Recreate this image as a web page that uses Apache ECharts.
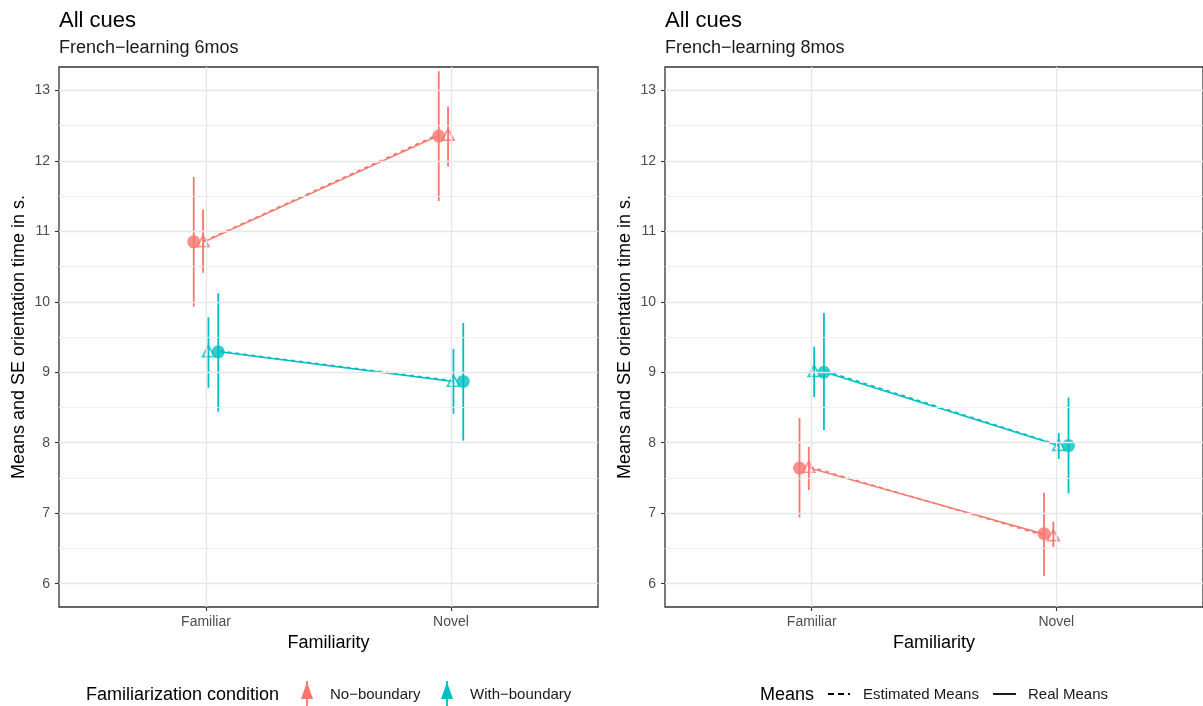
<!DOCTYPE html>
<html>
<head>
<meta charset="utf-8">
<script src="https://cdn.jsdelivr.net/npm/echarts@6/dist/echarts.min.js"></script>
<style>html,body{margin:0;padding:0;background:#fff;}#c{width:1203px;height:706px;}</style>
</head>
<body>
<div id="c"></div>
<script>
// ---------- data ----------
const categories = ['Familiar', 'Novel'];
const yTicks = [6, 7, 8, 9, 10, 11, 12, 13];
const yMinor = [6.5, 7.5, 8.5, 9.5, 10.5, 11.5, 12.5];
const panelTitles = ['All cues', 'All cues'];
const panelSubtitles = ['French\u2212learning 6mos', 'French\u2212learning 8mos'];
const groups = ['No\u2212boundary', 'With\u2212boundary'];
const meanTypes = ['Estimated Means', 'Real Means'];

// 6 months
const m6_noB_real = [10.85, 12.35], m6_noB_realLo = [9.93, 11.43], m6_noB_realHi = [11.77, 13.27];
const m6_noB_est  = [10.86, 12.37], m6_noB_estLo  = [10.41, 11.92], m6_noB_estHi  = [11.31, 12.77];
const m6_wB_real  = [9.29, 8.87],   m6_wB_realLo  = [8.44, 8.03],   m6_wB_realHi  = [10.12, 9.70];
const m6_wB_est   = [9.30, 8.88],   m6_wB_estLo   = [8.78, 8.41],   m6_wB_estHi   = [9.78, 9.33];
// 8 months
const m8_noB_real = [7.64, 6.71],   m8_noB_realLo = [6.94, 6.11],   m8_noB_realHi = [8.35, 7.29];
const m8_noB_est  = [7.66, 6.69],   m8_noB_estLo  = [7.33, 6.52],   m8_noB_estHi  = [7.94, 6.88];
const m8_wB_real  = [9.00, 7.96],   m8_wB_realLo  = [8.18, 7.28],   m8_wB_realHi  = [9.84, 8.64];
const m8_wB_est   = [9.02, 7.97],   m8_wB_estLo   = [8.65, 7.77],   m8_wB_estHi   = [9.36, 8.14];

// ---------- style / layout ----------
const RED = '#F8766D', CYAN = '#00BFC4';
const FONT = '"Liberation Sans", Arial, sans-serif';
const dodge = {noB_real: -0.05, noB_est: -0.012, wB_est: 0.01, wB_real: 0.05};
const lineDodge = {noB: [-0.008, -0.055], wB: [0.055, 0.008]};
const grids = [{left: 59, top: 67, width: 539, height: 540}, {left: 665, top: 67, width: 540, height: 540}];

const panels = [
  {noB_real: m6_noB_real, noB_realLo: m6_noB_realLo, noB_realHi: m6_noB_realHi,
   noB_est: m6_noB_est, noB_estLo: m6_noB_estLo, noB_estHi: m6_noB_estHi,
   wB_real: m6_wB_real, wB_realLo: m6_wB_realLo, wB_realHi: m6_wB_realHi,
   wB_est: m6_wB_est, wB_estLo: m6_wB_estLo, wB_estHi: m6_wB_estHi},
  {noB_real: m8_noB_real, noB_realLo: m8_noB_realLo, noB_realHi: m8_noB_realHi,
   noB_est: m8_noB_est, noB_estLo: m8_noB_estLo, noB_estHi: m8_noB_estHi,
   wB_real: m8_wB_real, wB_realLo: m8_wB_realLo, wB_realHi: m8_wB_realHi,
   wB_est: m8_wB_est, wB_estLo: m8_wB_estLo, wB_estHi: m8_wB_estHi}
];

function errRender(params, api) {
  const p1 = api.coord([api.value(0), api.value(1)]);
  const p2 = api.coord([api.value(0), api.value(2)]);
  return {type: 'line', shape: {x1: p1[0], y1: p1[1], x2: p2[0], y2: p2[1]},
          style: {stroke: api.visual('color'), lineWidth: 1.8}};
}

const series = [];
const xAxes = [], yAxes = [];
panels.forEach((P, gi) => {
  xAxes.push({
    type: 'value', gridIndex: gi, min: 0.4, max: 2.6,
    name: 'Familiarity', nameLocation: 'middle', nameGap: 27,
    nameTextStyle: {fontFamily: FONT, fontSize: 18, color: '#000'},
    axisLine: {show: false}, splitLine: {show: false},
    axisTick: {show: true, customValues: [1, 2], length: 4, lineStyle: {color: '#333', width: 1.1}},
    axisLabel: {customValues: [1, 2], formatter: v => categories[Math.round(v) - 1] || '',
                fontFamily: FONT, fontSize: 14, color: '#4d4d4d', margin: 8}
  });
  yAxes.push({
    type: 'value', gridIndex: gi, min: 5.67, max: 13.33,
    name: 'Means and SE orientation time in s.', nameLocation: 'middle', nameGap: 31,
    nameTextStyle: {fontFamily: FONT, fontSize: 18, color: '#000'},
    axisLine: {show: false}, splitLine: {show: false},
    axisTick: {show: true, customValues: yTicks, length: 4, lineStyle: {color: '#333', width: 1.1}},
    axisLabel: {customValues: yTicks, fontFamily: FONT, fontSize: 14, color: '#4d4d4d', margin: 9}
  });
  // gridlines
  series.push({
    type: 'line', xAxisIndex: gi, yAxisIndex: gi, data: [], z: 0, silent: true,
    markLine: {silent: true, symbol: ['none', 'none'], label: {show: false}, animation: false,
      data: [
        ...yMinor.map(v => ({yAxis: v, lineStyle: {color: '#ededed', width: 0.9, type: 'solid'}})),
        ...yTicks.map(v => ({yAxis: v, lineStyle: {color: '#e6e6e6', width: 1.3, type: 'solid'}})),
        ...categories.map((c, i) => ({xAxis: i + 1, lineStyle: {color: '#e6e6e6', width: 1.3, type: 'solid'}}))
      ]}
  });
  // connecting lines
  [['noB', RED], ['wB', CYAN]].forEach(([g, col]) => {
    series.push({type: 'line', xAxisIndex: gi, yAxisIndex: gi, symbol: 'none', z: 2, animation: false,
      lineStyle: {color: col, width: 1.5, type: 'solid'},
      data: categories.map((c, i) => [i + 1 + lineDodge[g][i], P[g + '_real'][i]])});
    series.push({type: 'line', xAxisIndex: gi, yAxisIndex: gi, symbol: 'none', z: 2, animation: false,
      lineStyle: {color: col, width: 1.5, type: [4, 4]},
      data: categories.map((c, i) => [i + 1 + lineDodge[g][i], P[g + '_est'][i]])});
  });
  // error bars and points
  [['noB', RED], ['wB', CYAN]].forEach(([g, col]) => {
    ['real', 'est'].forEach(t => {
      const k = g + '_' + t;
      series.push({type: 'custom', xAxisIndex: gi, yAxisIndex: gi, z: 3, animation: false,
        itemStyle: {color: col}, renderItem: errRender,
        data: categories.map((c, i) => [i + 1 + dodge[k], P[k + 'Lo'][i], P[k + 'Hi'][i]])});
      series.push({type: 'scatter', xAxisIndex: gi, yAxisIndex: gi, z: 4, animation: false,
        symbol: t === 'real' ? 'circle' : 'triangle',
        symbolSize: t === 'real' ? 13 : [12, 11],
        itemStyle: t === 'real' ? {color: col} : {color: 'rgba(255,255,255,0)', borderColor: col, borderWidth: 1.7},
        data: categories.map((c, i) => [i + 1 + dodge[k], P[k][i]])});
    });
  });
});

const titleStyle = {fontFamily: FONT, fontSize: 22, fontWeight: 'normal', color: '#000'};
const subStyle = {fontFamily: FONT, fontSize: 18, color: '#1a1a1a'};

const option = {
  backgroundColor: '#fff',
  animation: false,
  title: [
    {text: panelTitles[0], subtext: panelSubtitles[0], left: 54, top: 5, textStyle: titleStyle, subtextStyle: subStyle, itemGap: 7},
    {text: panelTitles[1], subtext: panelSubtitles[1], left: 660, top: 5, textStyle: titleStyle, subtextStyle: subStyle, itemGap: 7}
  ],
  grid: grids.map(g => Object.assign({show: true, borderColor: '#333', borderWidth: 1.3, backgroundColor: '#fff'}, g)),
  xAxis: xAxes,
  yAxis: yAxes,
  series: series,
  graphic: [
    {type: 'text', x: 86, y: 695, style: {text: 'Familiarization condition', fontFamily: FONT, fontSize: 18, fill: '#000', verticalAlign: 'middle'}},
    {type: 'line', shape: {x1: 307, y1: 681, x2: 307, y2: 706}, style: {stroke: RED, lineWidth: 1.8}},
    {type: 'polygon', shape: {points: [[307, 682], [301, 699], [313, 699]]}, style: {fill: RED}},
    {type: 'text', x: 330, y: 695, style: {text: groups[0], fontFamily: FONT, fontSize: 15, fill: '#1a1a1a', verticalAlign: 'middle'}},
    {type: 'line', shape: {x1: 447, y1: 681, x2: 447, y2: 706}, style: {stroke: CYAN, lineWidth: 1.8}},
    {type: 'polygon', shape: {points: [[447, 682], [441, 699], [453, 699]]}, style: {fill: CYAN}},
    {type: 'text', x: 470, y: 695, style: {text: groups[1], fontFamily: FONT, fontSize: 15, fill: '#1a1a1a', verticalAlign: 'middle'}},

    {type: 'text', x: 760, y: 695, style: {text: 'Means', fontFamily: FONT, fontSize: 18, fill: '#000', verticalAlign: 'middle'}},
    {type: 'line', shape: {x1: 828, y1: 694, x2: 850, y2: 694}, style: {stroke: '#000', lineWidth: 1.8, lineDash: [6, 4]}},
    {type: 'text', x: 863, y: 695, style: {text: meanTypes[0], fontFamily: FONT, fontSize: 15, fill: '#1a1a1a', verticalAlign: 'middle'}},
    {type: 'line', shape: {x1: 993, y1: 694, x2: 1016, y2: 694}, style: {stroke: '#000', lineWidth: 1.8}},
    {type: 'text', x: 1028, y: 695, style: {text: meanTypes[1], fontFamily: FONT, fontSize: 15, fill: '#1a1a1a', verticalAlign: 'middle'}}
  ]
};

const chart = echarts.init(document.getElementById('c'), null, {renderer: 'canvas'});
chart.setOption(option);
</script>
</body>
</html>
